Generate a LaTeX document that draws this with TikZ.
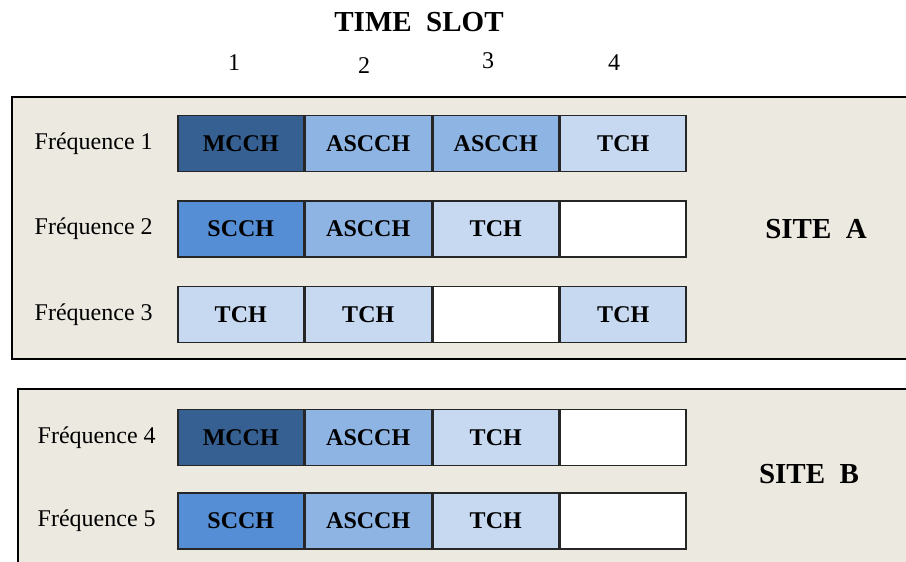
\documentclass[tikz,border=0pt]{standalone}
\usepackage{fontspec}
\setmainfont{Liberation Serif}
\usetikzlibrary{positioning}

\definecolor{mcchblue}{RGB}{54,96,146}
\definecolor{scchblue}{RGB}{85,142,213}
\definecolor{ascchblue}{RGB}{142,180,227}
\definecolor{tchblue}{RGB}{198,217,241}
\definecolor{sitebg}{RGB}{236,233,224}

\begin{document}
\begin{tikzpicture}[x=0.5pt,y=-0.5pt,
  cell/.style={draw=black!85,line width=0.75pt,minimum width=63pt,minimum height=28pt,
    inner sep=0pt,outer sep=0pt,font=\fontsize{12}{14}\selectfont\bfseries},
  mcch/.style={cell,fill=mcchblue},
  scch/.style={cell,fill=scchblue},
  ascch/.style={cell,fill=ascchblue},
  tch/.style={cell,fill=tchblue},
  freeslot/.style={cell,fill=white},
  freq/.style={font=\fontsize{12}{14}\selectfont},
  site/.style={font=\fontsize{14.5}{17}\selectfont\bfseries},
  sitebox/.style={draw=black,line width=1.25pt,fill=sitebg}]
  \clip (0,0) rectangle (906,562);
  \fill[white] (0,0) rectangle (906,562);
  % time slots
  \node[site] (title) at (419,22) {TIME\ \ SLOT};
  \node[freq] (ts1) at (234,63) {1};
  \node[freq] (ts2) at (364,66) {2};
  \node[freq] (ts3) at (488,61) {3};
  \node[freq] (ts4) at (614,63) {4};
  % site A
  \draw[sitebox] (12,97) rectangle (930,359);
  \matrix[row sep=14pt,column sep=0pt] at (432,229) {
    \node[mcch] (a11) {MCCH}; &
    \node[ascch] (a12) {ASCCH}; &
    \node[ascch] (a13) {ASCCH}; &
    \node[tch] (a14) {TCH};\\
    \node[scch] (a21) {SCCH}; &
    \node[ascch] (a22) {ASCCH}; &
    \node[tch] (a23) {TCH}; &
    \node[freeslot] (a24) {};\\
    \node[tch] (a31) {TCH}; &
    \node[tch] (a32) {TCH}; &
    \node[freeslot] (a33) {}; &
    \node[tch] (a34) {TCH};\\
  };
  \node[freq,left=9pt of a11] (f1) {Fréquence 1};
  \node[freq,left=9pt of a21] (f2) {Fréquence 2};
  \node[freq,left=9pt of a31] (f3) {Fréquence 3};
  \node[site,right=36pt of a24] (siteA) {SITE\ \ A};
  % site B
  \draw[sitebox] (18,389) rectangle (930,600);
  \matrix[row sep=13pt,column sep=0pt] at (432,479) {
    \node[mcch] (b11) {MCCH}; &
    \node[ascch] (b12) {ASCCH}; &
    \node[tch] (b13) {TCH}; &
    \node[freeslot] (b14) {};\\
    \node[scch] (b21) {SCCH}; &
    \node[ascch] (b22) {ASCCH}; &
    \node[tch] (b23) {TCH}; &
    \node[freeslot] (b24) {};\\
  };
  \node[freq,left=7.5pt of b11] (f4) {Fréquence 4};
  \node[freq,left=7.5pt of b21] (f5) {Fréquence 5};
  \node[site] (siteB) at (809,474) {SITE\ \ B};
\end{tikzpicture}
\end{document}
